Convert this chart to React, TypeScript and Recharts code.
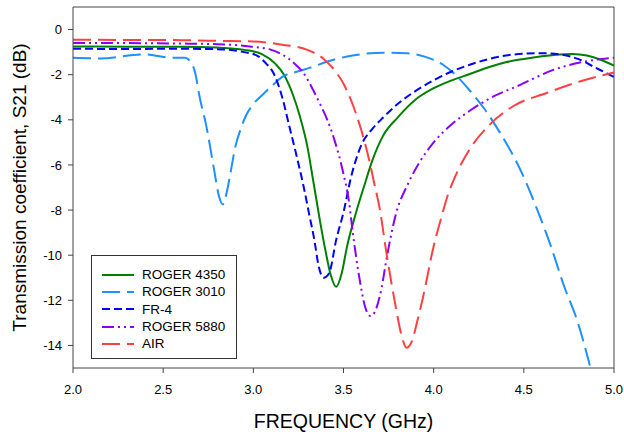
import { LineChart, Line, XAxis, YAxis, ReferenceLine } from 'recharts';

// frequency (GHz) / S21 (dB)
const roger4350 = [
  { f: 2.0, s: -0.75 }, { f: 2.3, s: -0.76 }, { f: 2.6, s: -0.76 }, { f: 2.8, s: -0.8 },
  { f: 2.95, s: -0.9 }, { f: 3.05, s: -1.1 }, { f: 3.12, s: -1.5 }, { f: 3.17, s: -2.0 },
  { f: 3.22, s: -2.9 }, { f: 3.26, s: -3.9 }, { f: 3.3, s: -5.2 }, { f: 3.33, s: -6.6 },
  { f: 3.37, s: -8.5 }, { f: 3.4, s: -9.8 }, { f: 3.43, s: -10.9 }, { f: 3.46, s: -11.4 },
  { f: 3.49, s: -10.8 }, { f: 3.52, s: -9.6 }, { f: 3.57, s: -8.1 }, { f: 3.62, s: -6.8 },
  { f: 3.66, s: -5.8 }, { f: 3.72, s: -4.7 }, { f: 3.8, s: -3.9 }, { f: 3.9, s: -3.1 },
  { f: 4.0, s: -2.6 }, { f: 4.1, s: -2.25 }, { f: 4.2, s: -1.97 }, { f: 4.3, s: -1.68 },
  { f: 4.4, s: -1.45 }, { f: 4.5, s: -1.3 }, { f: 4.6, s: -1.18 }, { f: 4.7, s: -1.1 },
  { f: 4.77, s: -1.08 }, { f: 4.85, s: -1.15 }, { f: 4.93, s: -1.35 }, { f: 5.0, s: -1.6 },
];

const roger3010 = [
  { f: 2.0, s: -1.25 }, { f: 2.15, s: -1.28 }, { f: 2.39, s: -1.1 }, { f: 2.55, s: -1.25 },
  { f: 2.62, s: -1.25 }, { f: 2.65, s: -1.4 }, { f: 2.68, s: -2.0 }, { f: 2.7, s: -2.9 },
  { f: 2.74, s: -4.3 }, { f: 2.78, s: -6.1 }, { f: 2.81, s: -7.4 }, { f: 2.83, s: -7.75 },
  { f: 2.85, s: -7.3 }, { f: 2.87, s: -6.5 }, { f: 2.9, s: -5.2 }, { f: 2.93, s: -4.4 },
  { f: 2.96, s: -3.8 }, { f: 3.0, s: -3.3 }, { f: 3.05, s: -2.9 }, { f: 3.11, s: -2.45 },
  { f: 3.16, s: -2.1 }, { f: 3.25, s: -1.85 }, { f: 3.31, s: -1.7 }, { f: 3.44, s: -1.35 },
  { f: 3.55, s: -1.15 }, { f: 3.72, s: -1.03 }, { f: 3.85, s: -1.05 }, { f: 3.95, s: -1.2 },
  { f: 4.05, s: -1.55 }, { f: 4.12, s: -2.0 }, { f: 4.2, s: -2.7 }, { f: 4.28, s: -3.5 },
  { f: 4.37, s: -4.6 }, { f: 4.48, s: -6.2 }, { f: 4.58, s: -8.1 }, { f: 4.65, s: -9.6 },
  { f: 4.72, s: -11.3 }, { f: 4.8, s: -13.0 }, { f: 4.87, s: -15.0 }, { f: 4.9, s: -15.9 },
];

const fr4 = [
  { f: 2.0, s: -0.85 }, { f: 2.3, s: -0.86 }, { f: 2.6, s: -0.85 }, { f: 2.8, s: -0.87 },
  { f: 2.95, s: -1.0 }, { f: 3.02, s: -1.15 }, { f: 3.07, s: -1.5 }, { f: 3.11, s: -1.9 },
  { f: 3.16, s: -3.0 }, { f: 3.2, s: -4.3 }, { f: 3.24, s: -5.6 }, { f: 3.28, s: -7.0 },
  { f: 3.31, s: -8.2 }, { f: 3.34, s: -9.4 }, { f: 3.36, s: -10.4 }, { f: 3.39, s: -11.0 },
  { f: 3.42, s: -10.8 }, { f: 3.46, s: -9.3 }, { f: 3.5, s: -8.1 }, { f: 3.54, s: -6.6 },
  { f: 3.6, s: -5.1 }, { f: 3.66, s: -4.4 }, { f: 3.72, s: -3.9 }, { f: 3.8, s: -3.3 },
  { f: 3.9, s: -2.72 }, { f: 4.0, s: -2.25 }, { f: 4.1, s: -1.86 }, { f: 4.2, s: -1.56 },
  { f: 4.3, s: -1.32 }, { f: 4.4, s: -1.15 }, { f: 4.5, s: -1.07 }, { f: 4.6, s: -1.05 },
  { f: 4.7, s: -1.1 }, { f: 4.8, s: -1.3 }, { f: 4.9, s: -1.7 }, { f: 5.0, s: -2.1 },
];

const roger5880 = [
  { f: 2.0, s: -0.6 }, { f: 2.3, s: -0.6 }, { f: 2.6, s: -0.62 }, { f: 2.8, s: -0.65 },
  { f: 2.98, s: -0.75 }, { f: 3.1, s: -0.9 }, { f: 3.22, s: -1.45 }, { f: 3.28, s: -1.95 },
  { f: 3.32, s: -2.5 }, { f: 3.37, s: -3.3 }, { f: 3.41, s: -4.0 }, { f: 3.45, s: -4.9 },
  { f: 3.5, s: -6.4 }, { f: 3.53, s: -7.6 }, { f: 3.55, s: -8.9 }, { f: 3.59, s: -11.1 },
  { f: 3.62, s: -12.3 }, { f: 3.65, s: -12.7 }, { f: 3.68, s: -12.4 }, { f: 3.71, s: -11.5 },
  { f: 3.74, s: -10.1 }, { f: 3.79, s: -8.2 }, { f: 3.86, s: -6.8 }, { f: 3.92, s: -5.9 },
  { f: 4.0, s: -5.0 }, { f: 4.1, s: -4.2 }, { f: 4.2, s: -3.6 }, { f: 4.3, s: -3.1 },
  { f: 4.48, s: -2.45 }, { f: 4.66, s: -1.8 }, { f: 4.85, s: -1.4 }, { f: 5.0, s: -1.25 },
];

const air = [
  { f: 2.0, s: -0.45 }, { f: 2.3, s: -0.46 }, { f: 2.6, s: -0.47 }, { f: 2.8, s: -0.5 },
  { f: 3.0, s: -0.53 }, { f: 3.16, s: -0.67 }, { f: 3.3, s: -0.9 }, { f: 3.39, s: -1.3 },
  { f: 3.45, s: -1.8 }, { f: 3.5, s: -2.4 }, { f: 3.55, s: -3.3 }, { f: 3.6, s: -4.5 },
  { f: 3.64, s: -5.7 }, { f: 3.67, s: -6.8 }, { f: 3.7, s: -7.9 }, { f: 3.74, s: -10.0 },
  { f: 3.79, s: -12.3 }, { f: 3.82, s: -13.5 }, { f: 3.85, s: -14.1 }, { f: 3.88, s: -13.8 },
  { f: 3.91, s: -12.9 }, { f: 3.94, s: -11.9 }, { f: 4.0, s: -9.6 }, { f: 4.04, s: -8.4 },
  { f: 4.08, s: -7.3 }, { f: 4.12, s: -6.5 }, { f: 4.2, s: -5.3 }, { f: 4.3, s: -4.3 },
  { f: 4.44, s: -3.4 }, { f: 4.63, s: -2.8 }, { f: 4.81, s: -2.3 }, { f: 5.0, s: -1.9 },
];

const xTicks = [2.0, 2.5, 3.0, 3.5, 4.0, 4.5, 5.0];
const yTicks = [-14, -12, -10, -8, -6, -4, -2, 0];

const series = [
  { name: 'ROGER 4350', data: roger4350, color: '#008000', dash: undefined },
  { name: 'ROGER 3010', data: roger3010, color: '#1E90FF', dash: '18 7' },
  { name: 'FR-4', data: fr4, color: '#0000FF', dash: '8 4' },
  { name: 'ROGER 5880', data: roger5880, color: '#8A00FF', dash: '12 4 2 4 2 4' },
  { name: 'AIR', data: air, color: '#FF4040', dash: '18 7' },
];

const font = '"Liberation Sans", Arial, sans-serif';
const axisColor = '#444';

export default function App() {
  return (
    <div style={{ position: 'absolute', left: 0, top: 0, width: 624, height: 435, background: '#fff', fontFamily: font }}>
      <LineChart width={624} height={435} margin={{ top: 7, right: 10, left: 0, bottom: 0 }}>
        <XAxis
          dataKey="f"
          type="number"
          domain={[2, 5]}
          ticks={xTicks}
          tickFormatter={(v: number) => v.toFixed(1)}
          height={67}
          tickSize={5}
          tickMargin={12}
          stroke={axisColor}
          tick={{ fill: '#000', fontSize: 13, fontFamily: font }}
          label={{ value: 'FREQUENCY (GHz)', position: 'insideBottom', offset: 7, fill: '#000', fontSize: 19.5, fontFamily: font }}
        />
        <YAxis
          type="number"
          domain={[-15, 1]}
          ticks={yTicks}
          allowDataOverflow
          width={73}
          tickSize={5}
          tickMargin={6}
          stroke={axisColor}
          tick={{ fill: '#000', fontSize: 13, fontFamily: font }}
          label={{
            value: 'Transmission coefficient, S21 (dB)',
            angle: -90,
            position: 'insideLeft',
            offset: 19,
            fill: '#000',
            fontSize: 19,
            fontFamily: font,
            style: { textAnchor: 'middle' },
          }}
        />
        <ReferenceLine y={1} stroke={axisColor} />
        <ReferenceLine x={5} stroke={axisColor} />
        {series.map((s) => (
          <Line
            key={s.name}
            data={s.data}
            dataKey="s"
            name={s.name}
            type="monotone"
            stroke={s.color}
            strokeWidth={2}
            strokeDasharray={s.dash}
            dot={false}
            isAnimationActive={false}
          />
        ))}
      </LineChart>
      <div
        style={{
          position: 'absolute',
          left: 91,
          top: 255,
          width: 146,
          height: 104,
          border: '1px solid #333',
          boxSizing: 'border-box',
          background: '#fff',
          paddingTop: 10,
        }}
      >
        {series.map((s) => (
          <div key={s.name} style={{ display: 'flex', alignItems: 'center', height: 17.3 }}>
            <svg width={50} height={10} style={{ flex: 'none' }}>
              <line x1={10} y1={5} x2={42} y2={5} stroke={s.color} strokeWidth={2} strokeDasharray={s.dash} />
            </svg>
            <span style={{ fontSize: 13.5, color: '#000', lineHeight: '17px' }}>{s.name}</span>
          </div>
        ))}
      </div>
    </div>
  );
}
